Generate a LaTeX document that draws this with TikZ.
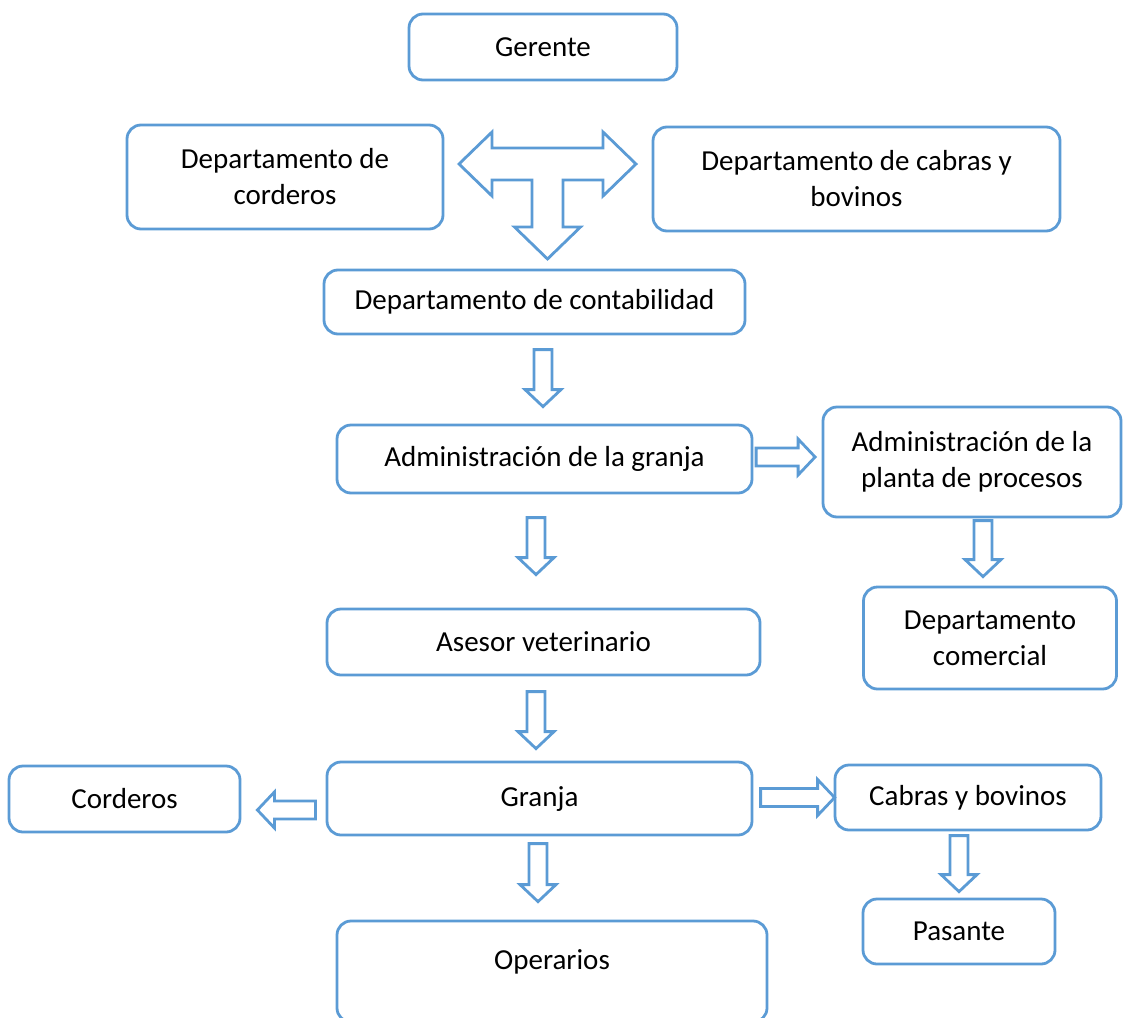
\documentclass[tikz,border=0pt]{standalone}
\usepackage{fontspec}
\setmainfont{Carlito}
\usetikzlibrary{calc}
\definecolor{azul}{HTML}{5B9BD5}

\tikzset{
  caja/.style={draw=azul, line width=1.4pt, rounded corners=7pt, fill=white,
    align=center, inner sep=0pt, font=\fontsize{14.5}{18}\selectfont},
  flecha/.style={draw=azul, line width=1.4pt, fill=white},
}

% Blockpfeil: Spitze bei #1, Drehung #2, Laenge #3
\newcommand\flecha[3]{\draw[flecha, shift={#1}, rotate=#2] (0,0) -- (-17,18) -- (-17,9) -- (-#3,9) -- (-#3,-9) -- (-17,-9) -- (-17,-18) -- cycle;}

\begin{document}
\begin{tikzpicture}[x=0.5pt,y=-0.5pt]
\useasboundingbox (0,0) rectangle (1123,1017);

%Cajas
\node[caja, minimum width=134pt, minimum height=33pt] (gerente) at (543,47) {Gerente};
\node[caja, minimum width=158pt, minimum height=52pt] (dcord) at (285,177) {Departamento de\\corderos};
\node[caja, minimum width=203.5pt, minimum height=52pt] (dcab) at (856.5,179) {Departamento de cabras y\\bovinos};
\node[caja, minimum width=210.5pt, minimum height=32pt] (conta) at (534.5,302) {Departamento de contabilidad};
\node[caja, minimum width=207.5pt, minimum height=34pt] (admin) at (544.5,459) {Administración de la granja};
\node[caja, minimum width=149pt, minimum height=55pt] (planta) at (972,462) {Administración de la\\planta de procesos};
\node[caja, minimum width=126.5pt, minimum height=51pt] (comercial) at (990,638) {Departamento\\comercial};
\node[caja, minimum width=216.5pt, minimum height=33pt] (asesor) at (543.5,642) {Asesor veterinario};
\node[caja, minimum width=212.5pt, minimum height=36.5pt] (granja) at (539.5,798.5) {Granja};
\node[caja, minimum width=115.5pt, minimum height=33pt] (corderos) at (124.5,799) {Corderos};
\node[caja, minimum width=133pt, minimum height=32.5pt] (cabras) at (968,797.5) {Cabras y bovinos};
\node[caja, minimum width=96pt, minimum height=32.5pt] (pasante) at (959,931.5) {Pasante};
\node[caja, minimum width=215pt, minimum height=50.5pt] (operarios) at (552,971.5) {};
\node[font=\fontsize{14.5}{18}\selectfont, inner sep=0pt] (operariosT) at (552,962) {Operarios};

%Flecha en T
\coordinate (cruce) at (547.5,164);
\draw[flecha, shift={(cruce)}] (-88.5,0) -- (-55.5,-32) -- (-55.5,-16) -- (55.5,-16) -- (55.5,-32)
  -- (88.5,0) -- (55.5,32) -- (55.5,16) -- (15.5,16) -- (15.5,63) -- (33,63) -- (0,95)
  -- (-33,63) -- (-15.5,63) -- (-15.5,16) -- (-55.5,16) -- (-55.5,32) -- cycle;

%Flechas
\flecha{($(admin.north)+(-1.5,-17)$)}{-90}{57}
\flecha{($(asesor.north)+(-7.5,-33)$)}{-90}{57}
\flecha{($(granja.north)+(-3.5,-12)$)}{-90}{57}
\flecha{($(operarios.north)+(-14,-18)$)}{-90}{58}
\flecha{($(comercial.north)+(-7,-9)$)}{-90}{56}
\flecha{($(pasante.north)+(0,-6)$)}{-90}{56}
\flecha{($(planta.west)+(-6.5,-5)$)}{0}{59}
\flecha{($(cabras.west)+(1,0)$)}{0}{74}
\flecha{($(corderos.east)+(16,11)$)}{180}{58}

\end{tikzpicture}
\end{document}
